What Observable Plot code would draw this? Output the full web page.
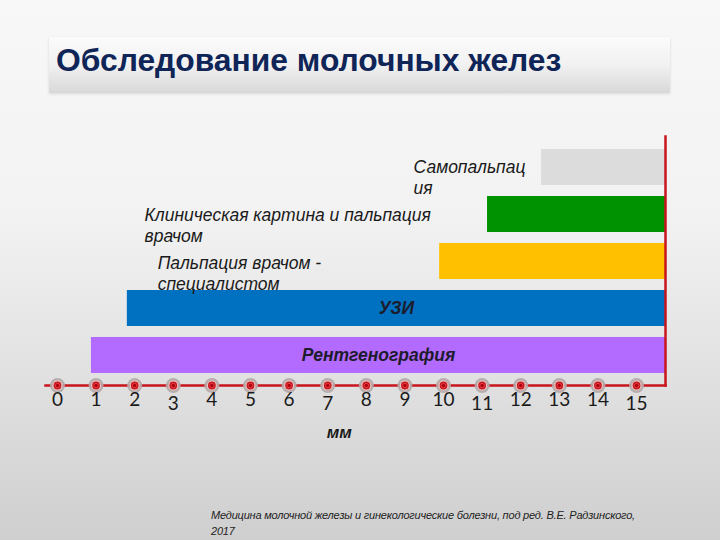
<!DOCTYPE html>
<html><head><meta charset="utf-8">
<script src="https://cdn.jsdelivr.net/npm/d3@7"></script>
<script src="https://cdn.jsdelivr.net/npm/@observablehq/plot@0.6"></script>
<style>
html,body{margin:0;padding:0;}
body{width:720px;height:540px;overflow:hidden;background:linear-gradient(#f8f8f8 0%,#f2f2f2 40%,#cfcfcf 100%);position:relative;font-family:"Liberation Sans",Arial,sans-serif;}
#title{position:absolute;left:49px;top:37px;width:621px;height:56px;background:linear-gradient(#fbfbfb 0%,#f1f1f1 50%,#d8d8d8 100%);box-shadow:0 1px 3px rgba(0,0,0,0.12);}
#title h1{margin:0;position:absolute;left:7px;top:5px;font-size:31.8px;line-height:36px;font-weight:bold;color:#0f2557;letter-spacing:0px;}
#chart{position:absolute;left:0;top:0;}
#caption{position:absolute;left:211px;top:507px;width:450px;font-size:11px;font-style:italic;color:#222;line-height:16px;letter-spacing:-0.2px;}
</style></head>
<body>
<div id="title"><h1>Обследование молочных желез</h1></div>
<div id="chart"></div>
<div id="caption">Медицина молочной железы и гинекологические болезни, под ред. В.Е. Радзинского, 2017</div>
<script>
const methods = ["Самопальпация", "Клиническая картина и пальпация врачом", "Пальпация врачом - специалистом", "УЗИ", "Рентгенография"];
const labels = ["Самопальпац\nия", "Клиническая картина и пальпация\nврачом", "Пальпация врачом -\nспециалистом", "УЗИ", "Рентгенография"];
const startMm = [12.54, 11.14, 9.9, 1.81, 0.88];
const endMm = [15.75, 15.75, 15.75, 15.75, 15.75];
const colors = ["#dcdcdc", "#009200", "#ffc000", "#0070c0", "#b36bff"];
const ticks = d3.range(0, 16);
const tickLabels = ticks.map(String);
const axisLabel = "мм";

const data = methods.map((m, i) => ({method: m, label: labels[i], start: startMm[i], end: endMm[i], color: colors[i]}));
const outside = data.slice(0, 3);
const inside = data.slice(3);
const lowTicks = [3, 7, 11, 15];

const red = "#c8141c";
const tickFont = "Lato, 'Open Sans', sans-serif";
const plot = Plot.plot({
  width: 720,
  height: 450,
  marginLeft: 45,
  marginRight: 55,
  marginTop: 136,
  marginBottom: 65,
  style: {background: "transparent", fontFamily: "'Liberation Sans', Arial, sans-serif"},
  x: {domain: [-0.31, 15.75], axis: null},
  y: {domain: methods, axis: null, padding: 0.24},
  marks: [
    Plot.barX(data, {x1: "start", x2: "end", y: "method", fill: d => d.color}),
    Plot.text([outside[0]], {x: "start", y: "method", text: "label", textAnchor: "start", dx: -128, dy: 9, fontSize: 17.5, fontStyle: "italic", fill: "#1a1a1a", lineHeight: 1.2}),
    Plot.text([outside[1]], {x: "start", y: "method", text: "label", textAnchor: "start", dx: -343, dy: 10, fontSize: 17.5, fontStyle: "italic", fill: "#1a1a1a", lineHeight: 1.2}),
    Plot.text([outside[2]], {x: "start", y: "method", text: "label", textAnchor: "start", dx: -282, dy: 11, fontSize: 17.5, fontStyle: "italic", fill: "#1a1a1a", lineHeight: 1.2}),
    Plot.text(inside, {x: d => (d.start + d.end) / 2, y: "method", text: "label", fontSize: 17.5, fontWeight: "bold", fontStyle: "italic", fill: "#1c1c2c"}),
    Plot.frame({anchor: "bottom", stroke: red, strokeWidth: 2.5}),
    Plot.frame({anchor: "right", stroke: red, strokeWidth: 2.5}),
    Plot.dot(ticks, {x: d => d, frameAnchor: "bottom", r: 7.5, fill: "#b5a9a9", fillOpacity: 0.9}),
    Plot.dot(ticks, {x: d => d, frameAnchor: "bottom", r: 4.5, fill: "#c8141c", stroke: "#f0c4c4", strokeWidth: 1.2}),
    Plot.dot(ticks, {x: d => d, frameAnchor: "bottom", r: 2.2, fill: "#b00010", stroke: "#e85050", strokeWidth: 0.8}),
    Plot.text(ticks.filter(t => !lowTicks.includes(t)), {x: d => d, frameAnchor: "bottom", text: d => tickLabels[d], dy: 20, fontSize: 19, fill: "#1a1a1a", fontFamily: tickFont}),
    Plot.text(lowTicks, {x: d => d, frameAnchor: "bottom", text: d => tickLabels[d], dy: 24, fontSize: 19, fill: "#1a1a1a", fontFamily: tickFont}),
    Plot.text([axisLabel], {x: 7.3, frameAnchor: "bottom", text: d => d, dy: 52, fontSize: 17, fontWeight: "bold", fontStyle: "italic", fill: "#1a1a1a"})
  ]
});
document.getElementById("chart").appendChild(plot);
</script>
</body></html>
